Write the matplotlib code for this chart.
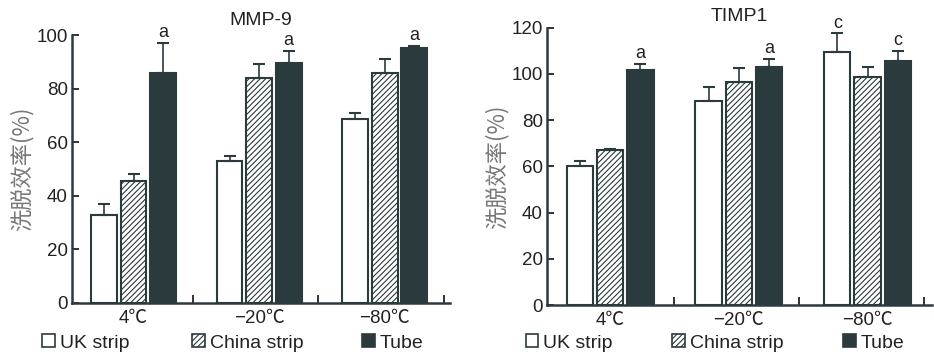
import numpy as np
import matplotlib
matplotlib.use("Agg")
import matplotlib.pyplot as plt
from matplotlib.patches import Patch

plt.rcParams['font.family'] = ['Liberation Sans', 'Noto Sans CJK SC', 'DejaVu Sans']
plt.rcParams['hatch.color'] = '#555555'
plt.rcParams['hatch.linewidth'] = 0.8

categories = ['4℃', '−20℃', '−80℃']
series = ['UK strip', 'China strip', 'Tube']

# MMP-9
mmp_uk = [33, 53, 68.5]
mmp_china = [45.5, 84, 86]
mmp_tube = [86, 89.5, 95]
mmp_uk_err = [4, 1.8, 2.5]
mmp_china_err = [2.7, 5, 5]
mmp_tube_err = [11, 4.5, 1]
mmp_marks = [(2, 0, 'a'), (2, 1, 'a'), (2, 2, 'a')]

# TIMP1
timp_uk = [60, 88.5, 109.5]
timp_china = [67, 96.5, 98.5]
timp_tube = [101.5, 103, 105.5]
timp_uk_err = [2.5, 6, 8]
timp_china_err = [0.4, 6, 4.5]
timp_tube_err = [3, 3.5, 4.5]
timp_marks = [(2, 0, 'a'), (2, 1, 'a'), (0, 2, 'c'), (2, 2, 'c')]

dark = '#2b3a3d'
edge = '#2b3a3d'
styles = [dict(color='white', hatch=None),
          dict(color='white', hatch='//////'),
          dict(color=dark, hatch=None)]

fig = plt.figure(figsize=(9.34, 3.59), dpi=100)


def panel(ax, vals, errs, marks, title, ymax, ystep, bticks, xright, tpad):
    x = np.arange(len(categories))
    w = 0.205
    off = [-0.235, 0, 0.235]
    tops = []
    for i in range(3):
        ax.bar(x + off[i], vals[i], w, color=styles[i]['color'], hatch=styles[i]['hatch'],
               edgecolor=edge, linewidth=1.5, zorder=2)
        ax.errorbar(x + off[i], vals[i], yerr=[np.zeros(3), errs[i]], fmt='none',
                    ecolor=edge, elinewidth=1.2, capsize=4, capthick=1.5, zorder=3)
        tops.append(np.array(vals[i]) + np.array(errs[i]))
    for s, c, txt in marks:
        ax.text(c + off[s], tops[s][c] + ymax * 0.006, txt, ha='center', va='bottom',
                fontsize=13, color='#222222')
    ax.set_xlim(-0.49, xright)
    ax.set_ylim(0, ymax)
    ax.set_yticks(np.arange(0, ymax + 1, ystep))
    ax.set_xticks(bticks)
    ax.set_xticklabels([])
    ax.tick_params(axis='both', direction='in', length=5, width=1.3, labelsize=13.5,
                   colors='#222222', pad=3)
    ax.tick_params(axis='x', length=6)
    for c, lab in enumerate(categories):
        ax.text(c, -ymax * 0.025, lab, ha='center', va='top', fontsize=13.5, color='#222222',
                transform=ax.transData)
    for sp in ['top', 'right']:
        ax.spines[sp].set_visible(False)
    for sp in ['left', 'bottom']:
        ax.spines[sp].set_linewidth(1.8)
        ax.spines[sp].set_color(edge)
    ax.set_title(title, fontsize=14, color='#222222', pad=tpad)
    ax.set_ylabel('洗脱效率(%)', family=['Noto Sans CJK SC', 'DejaVu Sans'],
                  fontsize=16, color='#777777', labelpad=2)
    handles = [Patch(facecolor=styles[i]['color'], hatch=styles[i]['hatch'],
                     edgecolor=edge, linewidth=1.2) for i in range(3)]
    return handles


ax1 = fig.add_axes([0.0771, 0.156, 0.4047, 0.7465])
h = panel(ax1, [mmp_uk, mmp_china, mmp_tube], [mmp_uk_err, mmp_china_err, mmp_tube_err],
          mmp_marks, 'MMP-9', 100, 20, [0.47, 1.47, 2.47], 2.52, 7)
ax2 = fig.add_axes([0.5857, 0.1504, 0.412, 0.7724])
panel(ax2, [timp_uk, timp_china, timp_tube], [timp_uk_err, timp_china_err, timp_tube_err],
      timp_marks, 'TIMP1', 120, 20, [0.5, 1.47, 2.44], 2.5, 5)

# legends
for xs in ([0.047, 0.208, 0.39], [0.565, 0.722, 0.905]):
    for i, lab in enumerate(series):
        fig.legend([h[i]], [lab], loc='center left', bbox_to_anchor=(xs[i] - 0.002, 0.045),
                   frameon=False, fontsize=14, handlelength=0.65, handleheight=0.65,
                   handletextpad=0.25, borderpad=0, borderaxespad=0, labelcolor='#222222')

fig.savefig('out.png', dpi=100)
